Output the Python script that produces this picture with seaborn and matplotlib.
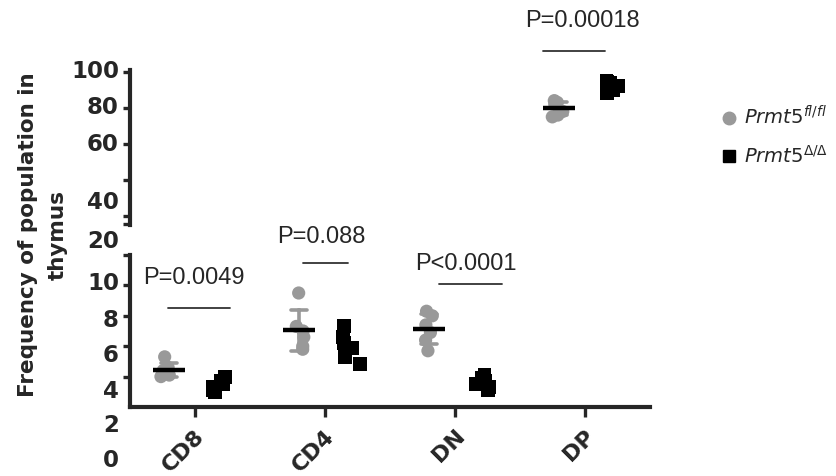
import numpy as np
import pandas as pd
import matplotlib
matplotlib.use("Agg")
import matplotlib.pyplot as plt
import seaborn as sns
from matplotlib.lines import Line2D
from matplotlib.transforms import blended_transform_factory, offset_copy, ScaledTranslation

# ---------------- data ----------------
categories = ["CD8", "CD4", "DN", "DP"]
genotypes = ["fl/fl", "del/del"]

cd8_fl = [5.3, 4.6, 4.4, 4.2, 4.1, 4.0]
cd8_del = [4.0, 3.7, 3.5, 3.3, 3.1, 3.0]
cd4_fl = [9.5, 7.3, 7.0, 6.6, 6.0, 5.8]
cd4_del = [7.3, 6.6, 6.2, 5.9, 5.3, 4.8]
dn_fl = [8.3, 8.0, 7.4, 6.9, 6.4, 5.7]
dn_del = [4.1, 3.9, 3.7, 3.5, 3.3, 3.1]
dp_fl = [84.0, 83.0, 82.0, 78.0, 76.0, 75.0]
dp_del = [95.0, 94.5, 94.0, 92.0, 90.0, 88.0]

p_labels = ["P=0.0049", "P=0.088", "P<0.0001", "P=0.00018"]

top_tick_values = [20, 40, 60, 80, 100]
top_tick_labels = ["20", "40", "60", "80", "100"]
bot_tick_values = [4, 6, 8, 10, 12]
bot_tick_labels = ["0", "2", "4", "6", "8", "10"]

legend_labels = [r"$\mathit{Prmt5}^{\mathit{fl/fl}}$", r"$\mathit{Prmt5}^{\mathit{Δ/Δ}}$"]

rows = []
for cat, fl, de in zip(categories, [cd8_fl, cd4_fl, dn_fl, dp_fl], [cd8_del, cd4_del, dn_del, dp_del]):
    for v in fl:
        rows.append((cat, "fl/fl", v))
    for v in de:
        rows.append((cat, "del/del", v))
df = pd.DataFrame(rows, columns=["category", "genotype", "value"])
df_fl = df[df.genotype == "fl/fl"]
df_del = df[df.genotype == "del/del"]

# ---------------- style ----------------
sns.set_style("ticks")
plt.rcParams["font.family"] = ["Liberation Sans", "DejaVu Sans"]
plt.rcParams["mathtext.fontset"] = "custom"
plt.rcParams["mathtext.it"] = "DejaVu Sans:italic"
plt.rcParams["mathtext.rm"] = "DejaVu Sans"
plt.rcParams["mathtext.bf"] = "DejaVu Sans:bold"

GREY = "#999999"
BLACK = "#000000"
W, H = 837, 476
np.random.seed(3)

fig = plt.figure(figsize=(W / 100, H / 100), dpi=100)
ax_top = fig.add_axes([130 / W, 1 - 225 / H, 520 / W, 155 / H])
ax_bot = fig.add_axes([130 / W, 1 - 407 / H, 520 / W, 152 / H])

for ax in (ax_top, ax_bot):
    # SD error bars of the fl/fl group (the other group's bars are hidden by its squares)
    sns.pointplot(data=df_fl, x="category", y="value", hue="genotype", order=categories,
                  hue_order=genotypes, palette=[GREY, BLACK], dodge=0.4, errorbar="sd",
                  capsize=0.12, markers="", linestyle="none", err_kws={"linewidth": 2.6},
                  legend=False, ax=ax)
    for ln in ax.lines:
        ln.set_zorder(1)
    n_err = len(ax.lines)
    # points
    sns.stripplot(data=df_fl, x="category", y="value", hue="genotype",
                  order=categories, hue_order=genotypes, palette=[GREY, BLACK], dodge=True,
                  jitter=0.15, marker="o", size=9.5, linewidth=0, legend=False, ax=ax, zorder=3)
    sns.stripplot(data=df_del, x="category", y="value", hue="genotype",
                  order=categories, hue_order=genotypes, palette=[GREY, BLACK], dodge=True,
                  jitter=0.15, marker="s", size=10, linewidth=0, legend=False, ax=ax, zorder=3)
    # mean line of the fl/fl group, above the grey dots
    sns.pointplot(data=df_fl, x="category", y="value", hue="genotype", order=categories,
                  hue_order=genotypes, palette=[BLACK, BLACK], dodge=0.4, errorbar=None,
                  markers="_", markersize=23, markeredgewidth=3.2, linestyle="none",
                  legend=False, ax=ax)
    for ln in ax.lines[n_err:]:
        ln.set_zorder(5)
    ax.set_xlim(-0.5, 3.5)
    ax.set_xlabel("")
    ax.set_ylabel("")
    for s in ("top", "right"):
        ax.spines[s].set_visible(False)
    ax.spines["left"].set_linewidth(3.0)
    ax.spines["bottom"].set_linewidth(3.0)
    ax.tick_params(axis="y", which="both", length=5, width=2.4, direction="out", labelleft=False)

ax_top.set_ylim(15, 101)
ax_top.set_yticks(top_tick_values)
ax_top.set_yticks([15.5], minor=True)
ax_top.spines["bottom"].set_visible(False)
ax_top.tick_params(axis="x", bottom=False, labelbottom=False)

ax_bot.set_ylim(2, 12)
ax_bot.set_yticks(bot_tick_values)
ax_bot.tick_params(axis="x", length=7, width=2.4, direction="out")
ax_bot.set_xticks(range(len(categories)))
ax_bot.set_xticklabels(categories, rotation=45, ha="right", va="top", rotation_mode="anchor",
                       fontsize=16, fontweight="bold", family="DejaVu Sans")
for lab in ax_bot.get_xticklabels():
    lab.set_transform(lab.get_transform() + ScaledTranslation(-0.5 / 72, -3 / 72, fig.dpi_scale_trans))

# y tick labels (placed as drawn in the reference, slightly displaced)
top_label_pos = [6.0, 27.5, 59.5, 80.3, 100.0]
bot_label_pos = [-1.5, 0.8, 3.0, 5.4, 7.7, 10.1]
for ax, labs, pos in ((ax_top, top_tick_labels, top_label_pos), (ax_bot, bot_tick_labels, bot_label_pos)):
    tr = offset_copy(blended_transform_factory(ax.transAxes, ax.transData), fig=fig, x=-8, y=0, units="points")
    for lab, p in zip(labs, pos):
        ax.text(0, p, lab, transform=tr, ha="right", va="center", fontsize=16.5,
                fontweight="bold", family="DejaVu Sans", clip_on=False)

# P-value annotations
p_axes = [ax_bot, ax_bot, ax_bot, ax_top]
p_text_xy = [(-0.01, 10.5), (0.97, 13.2), (2.08, 11.4), (2.98, 128.0)]
p_line = [(-0.21, 0.27, 8.5), (0.83, 1.18, 11.5), (1.88, 2.36, 10.1), (2.68, 3.15, 111.8)]
for ax, lab, (tx, ty), (x0, x1, ly) in zip(p_axes, p_labels, p_text_xy, p_line):
    ax.text(tx, ty, lab, ha="center", va="center", fontsize=17, clip_on=False)
    ax.plot([x0, x1], [ly, ly], color="#333333", lw=1.3, clip_on=False)

# y label
fig.text(0.051, 1 - 235 / H, "Frequency of population in\nthymus", rotation=90, ha="center",
         va="center", fontsize=15.5, fontweight="bold", family="DejaVu Sans",
         linespacing=1.6, multialignment="center")

# legend
handles = [Line2D([], [], marker="o", color=GREY, linestyle="none", markersize=9),
           Line2D([], [], marker="s", color=BLACK, linestyle="none", markersize=9)]
fig.legend(handles, legend_labels, loc="upper left", bbox_to_anchor=(710 / W, 1 - 96 / H),
           frameon=False, fontsize=14, handletextpad=0.25, labelspacing=0.8, handlelength=1.0,
           borderpad=0.0)

fig.savefig("out.png", dpi=100)
